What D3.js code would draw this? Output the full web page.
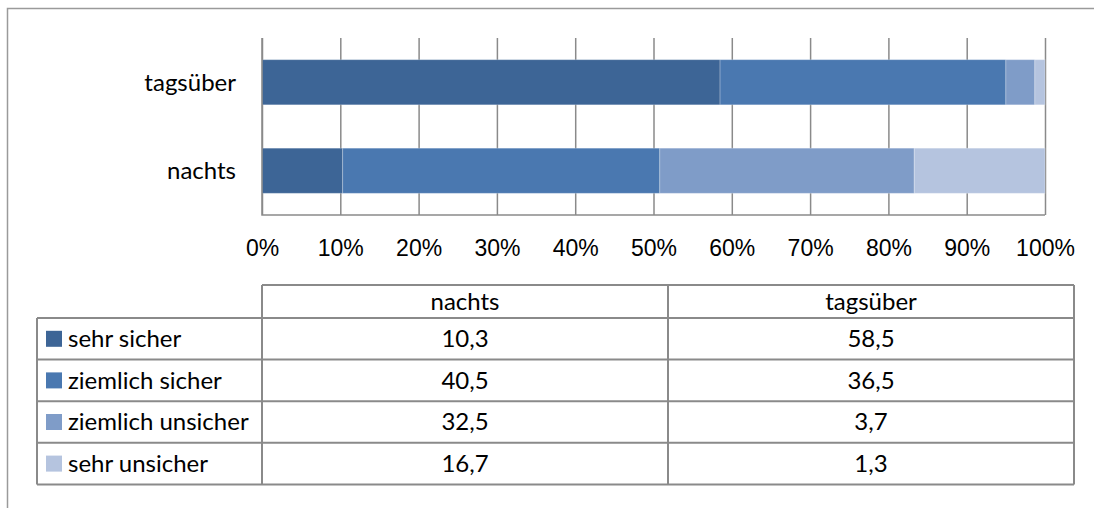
<!DOCTYPE html>
<html>
<head>
<meta charset="utf-8">
<script src="https://cdn.jsdelivr.net/npm/d3@7"></script>
<style>
  body { margin: 0; background: #fff; }
  svg { display: block; font-family: Lato, "Open Sans", sans-serif; }
</style>
</head>
<body>
<svg id="chart" width="1094" height="508"></svg>
<script>
// data
var categories = ["tagsüber", "nachts"];
var columns = ["nachts", "tagsüber"];
var series = ["sehr sicher", "ziemlich sicher", "ziemlich unsicher", "sehr unsicher"];
var nachts = [10.3, 40.5, 32.5, 16.7];
var tagsueber = [58.5, 36.5, 3.7, 1.3];
var tickValues = [0, 0.1, 0.2, 0.3, 0.4, 0.5, 0.6, 0.7, 0.8, 0.9, 1];
var colors = ["#3d6596", "#4a78b0", "#7f9cc8", "#b5c4df"];

var valuesByCat = { "nachts": nachts, "tagsüber": tagsueber };

var svg = d3.select("#chart");
var fontSize = 24;
var tickFontSize = 23;
var lineColor = "#8a8a8a";

// outer frame (only left + top visible)
svg.append("path")
    .attr("d", "M7.5,508V8.5H1094")
    .attr("fill", "none")
    .attr("stroke", "#9a9a9a")
    .attr("stroke-width", 1.5);

var plot = { left: 262, right: 1045, top: 38, bottom: 215 };

var x = d3.scaleLinear().domain([0, 1]).range([plot.left, plot.right]);
var y = d3.scaleBand().domain(categories).range([plot.top, plot.bottom]).paddingInner(0.49).paddingOuter(0.245);

// rows for stacking
var rows = categories.map(function (c) {
    var r = { cat: c };
    series.forEach(function (s, i) { r[s] = valuesByCat[c][i]; });
    return r;
});
var stacked = d3.stack().keys(series).offset(d3.stackOffsetExpand)(rows);

// gridlines
svg.append("g")
    .attr("transform", "translate(0," + plot.top + ")")
    .call(d3.axisBottom(x).tickValues(tickValues).tickSize(plot.bottom - plot.top).tickFormat(""))
    .call(function (g) {
        g.select(".domain").remove();
        g.selectAll("line").attr("stroke", lineColor).attr("stroke-width", 1.5);
    });

// bars
svg.append("g").selectAll("g")
    .data(stacked)
    .enter().append("g")
    .attr("fill", function (d, i) { return colors[i]; })
    .selectAll("rect")
    .data(function (d) { return d; })
    .enter().append("rect")
    .attr("x", function (d) { return x(d[0]); })
    .attr("width", function (d) { return x(d[1]) - x(d[0]); })
    .attr("y", function (d) { return y(d.data.cat); })
    .attr("height", y.bandwidth())
    .attr("stroke", "rgba(255,255,255,0.25)")
    .attr("stroke-width", 1);

// axis lines
svg.append("path")
    .attr("d", "M" + plot.left + "," + plot.top + "V" + plot.bottom + "H" + plot.right)
    .attr("fill", "none")
    .attr("stroke", lineColor)
    .attr("stroke-width", 1.5);

// x tick labels
svg.append("g")
    .attr("transform", "translate(0," + plot.bottom + ")")
    .call(d3.axisBottom(x).tickValues(tickValues).tickSize(0).tickPadding(25).tickFormat(d3.format(".0%")))
    .call(function (g) {
        g.select(".domain").remove();
        g.selectAll("text").attr("font-size", tickFontSize).attr("font-family", null).attr("fill", "#000");
    });

// category labels
svg.append("g").selectAll("text")
    .data(categories)
    .enter().append("text")
    .attr("x", 236)
    .attr("y", function (d) { return y(d) + y.bandwidth() / 2; })
    .attr("dy", "0.35em")
    .attr("text-anchor", "end")
    .attr("font-size", fontSize)
    .text(function (d) { return d; });

// data table
var de = d3.formatLocale({ decimal: ",", thousands: ".", grouping: [3], currency: ["", " €"] });
var fmt = de.format(".1f");

var tbl = { left: 37, col1: 262, right: 1074, top: 285, headBottom: 318, rowH: 41.6 };
var colX = d3.scaleBand().domain(columns).range([tbl.col1, tbl.right]);
var rowY = d3.scaleBand().domain(series).range([tbl.headBottom, tbl.headBottom + tbl.rowH * series.length]);
var tblBottom = rowY.range()[1];

var tg = svg.append("g");
var lines = [];
// header box
lines.push([tbl.col1, tbl.top, tbl.right, tbl.top]);
lines.push([tbl.left, tbl.headBottom, tbl.right, tbl.headBottom]);
series.forEach(function (s) {
    lines.push([tbl.left, rowY(s) + rowY.bandwidth(), tbl.right, rowY(s) + rowY.bandwidth()]);
});
lines.push([tbl.left, tbl.headBottom, tbl.left, tblBottom]);
lines.push([tbl.col1, tbl.top, tbl.col1, tblBottom]);
columns.forEach(function (c) {
    lines.push([colX(c) + colX.bandwidth(), tbl.top, colX(c) + colX.bandwidth(), tblBottom]);
});
tg.selectAll("line")
    .data(lines)
    .enter().append("line")
    .attr("x1", function (d) { return d[0]; })
    .attr("y1", function (d) { return d[1]; })
    .attr("x2", function (d) { return d[2]; })
    .attr("y2", function (d) { return d[3]; })
    .attr("stroke", lineColor)
    .attr("stroke-width", 2);

// column headers
tg.selectAll("text.head")
    .data(columns)
    .enter().append("text")
    .attr("class", "head")
    .attr("x", function (c) { return colX(c) + colX.bandwidth() / 2; })
    .attr("y", (tbl.top + tbl.headBottom) / 2)
    .attr("dy", "0.35em")
    .attr("text-anchor", "middle")
    .attr("font-size", fontSize)
    .text(function (d) { return d; });

// row labels with legend keys
var rowG = tg.selectAll("g.row")
    .data(series)
    .enter().append("g")
    .attr("class", "row")
    .attr("transform", function (s) { return "translate(0," + (rowY(s) + rowY.bandwidth() / 2) + ")"; });
rowG.append("rect")
    .attr("x", 46)
    .attr("y", -8)
    .attr("width", 16)
    .attr("height", 16)
    .attr("fill", function (s, i) { return colors[i]; });
rowG.append("text")
    .attr("x", 68)
    .attr("dy", "0.35em")
    .attr("font-size", fontSize)
    .text(function (s) { return s; });
columns.forEach(function (c) {
    rowG.append("text")
        .attr("x", colX(c) + colX.bandwidth() / 2)
        .attr("dy", "0.35em")
        .attr("text-anchor", "middle")
        .attr("font-size", fontSize)
        .text(function (s, i) { return fmt(valuesByCat[c][i]); });
});
</script>
</body>
</html>
